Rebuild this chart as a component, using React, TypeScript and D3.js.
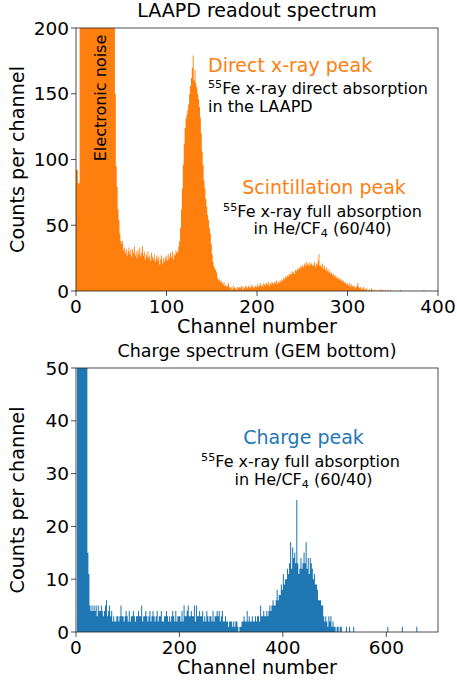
import React from "react";
import * as d3 from "d3";

// ---------- data ----------
// LAAPD readout spectrum: counts per channel, channels 0..399 (1 channel per bin)
const laapdCounts: number[] = [
  92, 92, 82, 82, 310, 520, 700, 860, 950, 1010,
  1060, 1090, 1110, 1120, 1130, 1125, 1110, 1090, 1070, 1040,
  1010, 980, 940, 900, 860, 820, 780, 740, 700, 660,
  620, 580, 540, 500, 460, 420, 380, 345, 310, 280,
  255, 230, 215, 150, 95, 79, 62, 54, 44, 38,
  36, 38, 31, 33, 29, 32, 27, 30, 33, 28,
  31, 26, 32, 29, 34, 27, 30, 25, 31, 28,
  33, 26, 29, 34, 27, 30, 24, 28, 26, 30,
  25, 27, 23, 29, 26, 24, 28, 22, 25, 27,
  23, 26, 20, 24, 27, 21, 25, 22, 26, 24,
  27, 23, 28, 25, 29, 26, 30, 24, 28, 27,
  31, 29, 30, 34, 38, 48, 62, 78, 96, 112,
  124, 131, 134, 138, 142, 150, 156, 162, 170, 179,
  160, 168, 158, 155, 150, 146, 140, 132, 120, 106,
  96, 84, 78, 70, 64, 58, 54, 48, 44, 36,
  28, 22, 19, 17, 16, 14, 10, 8, 9, 7,
  8, 6, 5, 7, 4, 5, 3, 4, 6, 3,
  2, 3, 1, 4, 2, 3, 2, 1, 3, 2,
  3, 2, 4, 3, 1, 3, 2, 4, 3, 2,
  4, 3, 2, 5, 3, 4, 2, 3, 4, 3,
  5, 3, 4, 6, 4, 5, 3, 6, 5, 4,
  6, 5, 7, 4, 6, 5, 7, 6, 5, 7,
  6, 8, 5, 7, 6, 8, 7, 9, 8, 10,
  9, 11, 10, 12, 11, 13, 12, 14, 13, 15,
  14, 13, 16, 15, 17, 16, 18, 17, 19, 18,
  20, 18, 21, 19, 22, 20, 21, 19, 22, 20,
  21, 19, 20, 22, 18, 21, 20, 23, 28, 19,
  20, 18, 21, 17, 19, 16, 18, 15, 17, 14,
  15, 13, 14, 12, 13, 11, 12, 10, 11, 9,
  10, 9, 8, 9, 7, 8, 6, 7, 5, 6,
  5, 4, 6, 3, 5, 4, 3, 4, 2, 3,
  4, 6, 3, 2, 3, 1, 2, 3, 1, 2,
  1, 2, 0, 1, 1, 0, 2, 1, 0, 1,
  0, 1, 0, 0, 1, 0, 1, 1, 0, 1,
  0, 0, 1, 0, 1, 0, 0, 1, 0, 0,
  0, 0, 0, 0, 0, 0, 0, 0, 1, 0,
  0, 0, 0, 0, 0, 0, 0, 0, 0, 0,
  0, 0, 0, 0, 0, 0, 0, 0, 0, 0,
  0, 0, 0, 0, 1, 0, 0, 0, 0, 0,
  0, 0, 0, 0, 0, 0, 0, 0, 0, 0,
];
const laapdBinWidth = 1;

// Charge spectrum (GEM bottom): counts per channel, bins of 2 channels, channels 0..699
const chargeCounts: number[] = [
  0, 400, 900, 1200, 1100, 800, 500, 300, 180, 110,
  60, 15, 11, 5, 4, 5, 4, 5, 4, 5,
  3, 5, 4, 4, 5, 4, 3, 4, 5, 6,
  3, 4, 5, 3, 4, 2, 3, 2, 2, 3,
  3, 2, 3, 5, 3, 3, 2, 3, 4, 3,
  2, 4, 2, 3, 3, 4, 3, 2, 3, 3,
  4, 3, 3, 5, 2, 3, 3, 4, 3, 2,
  3, 4, 2, 3, 4, 3, 2, 3, 4, 2,
  3, 3, 4, 2, 2, 3, 3, 4, 3, 2,
  3, 2, 3, 4, 3, 2, 4, 2, 3, 3,
  3, 2, 4, 2, 5, 3, 3, 4, 5, 3,
  3, 4, 3, 3, 5, 2, 5, 3, 3, 4,
  3, 3, 4, 2, 3, 2, 4, 3, 2, 3,
  3, 2, 4, 2, 3, 3, 4, 3, 4, 2,
  3, 4, 2, 2, 3, 2, 2, 1, 2, 2,
  2, 1, 2, 1, 2, 2, 1, 0, 1, 1,
  2, 2, 3, 2, 2, 4, 2, 3, 2, 2,
  3, 2, 2, 3, 2, 3, 3, 2, 5, 3,
  3, 4, 3, 3, 4, 3, 4, 5, 4, 5,
  6, 5, 5, 6, 8, 6, 7, 7, 9, 8,
  11, 9, 10, 10, 12, 11, 13, 17, 12, 16,
  14, 15, 13, 25, 13, 11, 12, 14, 12, 13,
  15, 13, 17, 12, 14, 11, 14, 13, 12, 10,
  11, 9, 9, 8, 6, 6, 6, 5, 5, 3,
  2, 3, 2, 1, 3, 2, 3, 1, 2, 1,
  1, 0, 1, 1, 0, 1, 1, 0, 0, 0,
  0, 1, 0, 0, 1, 0, 0, 0, 1, 0,
  0, 0, 0, 0, 0, 0, 0, 0, 0, 0,
  0, 0, 0, 0, 0, 0, 0, 0, 0, 0,
  0, 0, 0, 0, 0, 0, 0, 0, 0, 0,
  0, 1, 0, 0, 0, 0, 0, 0, 0, 0,
  0, 0, 0, 0, 0, 1, 0, 0, 0, 0,
  0, 0, 0, 0, 0, 0, 0, 0, 0, 1,
  0, 0, 0, 0, 0, 0, 0, 0, 0, 0,
  0, 0, 0, 0, 0, 0, 0, 0, 0, 0,
];
const chargeBinWidth = 2;

const laapdXTicks = [0, 100, 200, 300, 400];
const laapdYTicks = [0, 50, 100, 150, 200];
const chargeXTicks = [0, 200, 400, 600];
const chargeYTicks = [0, 10, 20, 30, 40, 50];

const ORANGE = "#ff7f0e";
const BLUE = "#1f77b4";
const FONT = "DejaVu Sans";

// ---------- panel ----------
type PanelProps = {
  id: string;
  top: number;
  bottom: number;
  left: number;
  right: number;
  xMax: number;
  yMax: number;
  counts: number[];
  binWidth: number;
  color: string;
  title: string;
  titleSize: number;
  xTicks: number[];
  yTicks: number[];
  children?: React.ReactNode;
};

function Panel(p: PanelProps) {
  const x = d3.scaleLinear().domain([0, p.xMax]).range([p.left, p.right]);
  const y = d3.scaleLinear().domain([0, p.yMax]).range([p.bottom, p.top]);
  const pts: [number, number][] = p.counts.map((v, i) => [i * p.binWidth, v]);
  pts.push([p.counts.length * p.binWidth, p.counts[p.counts.length - 1]]);
  const area = d3
    .area<[number, number]>()
    .x((d) => x(d[0]))
    .y0(y(0))
    .y1((d) => y(Math.min(d[1], p.yMax * 1.1)))
    .curve(d3.curveStepAfter);
  const cx = (p.left + p.right) / 2;
  const cy = (p.top + p.bottom) / 2;
  const tickLen = 5;
  return (
    <g>
      <defs>
        <clipPath id={p.id}>
          <rect x={p.left} y={p.top} width={p.right - p.left} height={p.bottom - p.top} />
        </clipPath>
      </defs>
      <text x={cx} y={p.top - 11} textAnchor="middle" fontSize={p.titleSize} fill="#000">
        {p.title}
      </text>
      <path d={area(pts) || ""} fill={p.color} clipPath={`url(#${p.id})`} />
      {p.children}
      <rect
        x={p.left}
        y={p.top}
        width={p.right - p.left}
        height={p.bottom - p.top}
        fill="none"
        stroke="#222"
        strokeWidth={0.8}
      />
      {p.yTicks.map((t) => (
        <g key={"y" + t}>
          <line x1={p.left - tickLen} x2={p.left} y1={y(t)} y2={y(t)} stroke="#222" strokeWidth={0.8} />
          <text x={p.left - tickLen - 2} y={y(t)} dy="0.36em" textAnchor="end" fontSize={18.5}>
            {t}
          </text>
        </g>
      ))}
      {p.xTicks.map((t) => (
        <g key={"x" + t}>
          <line x1={x(t)} x2={x(t)} y1={p.bottom} y2={p.bottom + tickLen} stroke="#222" strokeWidth={0.8} />
          <text x={x(t)} y={p.bottom + 21.5} textAnchor="middle" fontSize={18.5}>
            {t}
          </text>
        </g>
      ))}
      <text x={cx} y={p.bottom + 41.5} textAnchor="middle" fontSize={19.2}>
        Channel number
      </text>
      <text transform={`translate(24,${cy}) rotate(-90)`} textAnchor="middle" fontSize={19.2}>
        Counts per channel
      </text>
    </g>
  );
}

export default function App() {
  const left = 76;
  const right = 438;
  return (
    <svg
      width={457}
      height={685}
      style={{ position: "absolute", left: 0, top: 0, display: "block" }}
      fontFamily={FONT}
    >
      <rect width={457} height={685} fill="#fff" />
      <Panel
        id="clipTop"
        top={28}
        bottom={291}
        left={left}
        right={right}
        xMax={400}
        yMax={200}
        counts={laapdCounts}
        binWidth={laapdBinWidth}
        color={ORANGE}
        title="LAAPD readout spectrum"
        titleSize={19}
        xTicks={laapdXTicks}
        yTicks={laapdYTicks}
      >
        <text transform="translate(106,98) rotate(-90)" textAnchor="middle" fontSize={16}>
          Electronic noise
        </text>
        <text x={208} y={72} fontSize={19} fill={ORANGE}>
          Direct x-ray peak
        </text>
        <text x={208} y={94} fontSize={16}>
          <tspan fontSize={11.2} dy={-6}>55</tspan>
          <tspan dy={6}>Fe x-ray direct absorption</tspan>
        </text>
        <text x={208} y={112} fontSize={16}>
          in the LAAPD
        </text>
        <text x={324} y={194} fontSize={19} fill={ORANGE} textAnchor="middle">
          Scintillation peak
        </text>
        <text x={322.5} y={216.5} fontSize={16} textAnchor="middle">
          <tspan fontSize={11.2} dy={-6}>55</tspan>
          <tspan dy={6}>Fe x-ray full absorption</tspan>
        </text>
        <text x={322.5} y={234} fontSize={16} textAnchor="middle">
          in He/CF<tspan fontSize={11.2} dy={3}>4</tspan>
          <tspan dy={-3}> (60/40)</tspan>
        </text>
      </Panel>
      <Panel
        id="clipBottom"
        top={368}
        bottom={632}
        left={left}
        right={right}
        xMax={700}
        yMax={50}
        counts={chargeCounts}
        binWidth={chargeBinWidth}
        color={BLUE}
        title="Charge spectrum (GEM bottom)"
        titleSize={17.5}
        xTicks={chargeXTicks}
        yTicks={chargeYTicks}
      >
        <text x={303.5} y={444} fontSize={19} fill={BLUE} textAnchor="middle">
          Charge peak
        </text>
        <text x={300.5} y={466.5} fontSize={16} textAnchor="middle">
          <tspan fontSize={11.2} dy={-6}>55</tspan>
          <tspan dy={6}>Fe x-ray full absorption</tspan>
        </text>
        <text x={303.5} y={485} fontSize={16} textAnchor="middle">
          in He/CF<tspan fontSize={11.2} dy={3}>4</tspan>
          <tspan dy={-3}> (60/40)</tspan>
        </text>
      </Panel>
    </svg>
  );
}
